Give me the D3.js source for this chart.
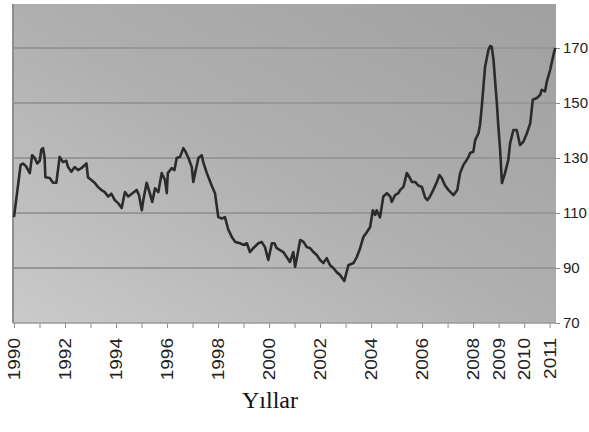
<!DOCTYPE html>
<html>
<head>
<meta charset="utf-8">
<script src="https://cdn.jsdelivr.net/npm/d3@7"></script>
<style>
  body { margin: 0; background: #fff; }
</style>
</head>
<body>
<div id="chart"></div>
<script>
// data (decimal year, index value)
var years = [1990.00, 1990.26, 1990.35, 1990.47, 1990.62, 1990.71, 1990.81, 1990.91, 1991.01, 1991.07,
  1991.14, 1991.20, 1991.23, 1991.40, 1991.53, 1991.66, 1991.79, 1991.92, 1992.05, 1992.12,
  1992.25, 1992.38, 1992.51, 1992.64, 1992.84, 1992.90, 1993.03, 1993.16, 1993.29, 1993.42,
  1993.56, 1993.69, 1993.82, 1993.95, 1994.08, 1994.22, 1994.35, 1994.48, 1994.62, 1994.81,
  1994.90, 1995.01, 1995.07, 1995.20, 1995.33, 1995.42, 1995.53, 1995.66, 1995.79, 1995.92,
  1995.99, 1996.03, 1996.18, 1996.29, 1996.38, 1996.51, 1996.64, 1996.73, 1996.84, 1996.97,
  1997.03, 1997.10, 1997.23, 1997.36, 1997.42, 1997.56, 1997.75, 1997.88, 1998.01, 1998.15,
  1998.27, 1998.40, 1998.54, 1998.67, 1998.86, 1998.99, 1999.13, 1999.25, 1999.38, 1999.58,
  1999.71, 1999.84, 1999.97, 2000.11, 2000.21, 2000.30, 2000.43, 2000.56, 2000.69, 2000.82,
  2000.95, 2001.02, 2001.09, 2001.22, 2001.35, 2001.48, 2001.61, 2001.74, 2001.87, 2002.00,
  2002.13, 2002.26, 2002.39, 2002.52, 2002.65, 2002.78, 2002.95, 2003.11, 2003.31, 2003.44,
  2003.57, 2003.70, 2003.83, 2003.96, 2004.07, 2004.16, 2004.22, 2004.35, 2004.48, 2004.62,
  2004.75, 2004.81, 2004.94, 2005.07, 2005.14, 2005.27, 2005.40, 2005.46, 2005.60, 2005.73,
  2005.85, 2005.99, 2006.12, 2006.21, 2006.31, 2006.44, 2006.58, 2006.68, 2006.77, 2006.90,
  2007.03, 2007.23, 2007.38, 2007.49, 2007.62, 2007.75, 2007.82, 2007.88, 2008.01, 2008.08,
  2008.21, 2008.27, 2008.34, 2008.40, 2008.47, 2008.60, 2008.67, 2008.73, 2008.80, 2008.86,
  2008.93, 2008.99, 2009.06, 2009.13, 2009.25, 2009.38, 2009.45, 2009.58, 2009.71, 2009.84,
  2009.97, 2010.11, 2010.24, 2010.34, 2010.50, 2010.63, 2010.69, 2010.82, 2010.89, 2011.02,
  2011.15, 2011.22];

var values = [108.5, 127.5, 128, 127, 124.5, 131, 130, 128, 129, 133,
  133.6, 130, 123, 122.7, 121, 121, 130.4, 128.5, 129, 126.7,
  125, 126.7, 125.6, 126.3, 128, 123, 122, 121, 119.5, 118.4,
  117.6, 116, 117, 114.7, 113.6, 111.8, 117.6, 116, 117, 118.4,
  116.5, 111, 114.7, 121, 117, 114, 119, 117.6, 124.5, 122,
  117.2, 124.5, 126.3, 125.6, 130, 130.4, 133.6, 132.2, 130, 126.7,
  121.3, 124.5, 130, 131, 128.5, 124.5, 120, 117.2, 108.5, 108,
  108.5, 104, 101.3, 99.5, 99, 98.4, 99, 95.8, 97.2, 99,
  99.5, 97.6, 92.9, 99, 99, 97.2, 96.5, 95.8, 94, 92.2,
  95.8, 90.4, 93.6, 100.2, 99.5, 97.6, 97.2, 95.8, 94.7, 92.9,
  91.8, 93.6, 91, 90, 88.5, 87.5, 85.3, 91, 91.8, 94,
  97.2, 101.3, 103, 104.8, 111, 109.3, 111, 108.4, 116, 117.2,
  116, 114, 116.5, 117.2, 118.4, 119.5, 124.5, 123.8, 121.3, 121.3,
  120, 119.5, 115.6, 114.7, 116, 118.4, 121.3, 123.8, 122.7, 120,
  118.4, 116.5, 118.4, 124.5, 127.5, 129.3, 130.4, 131.8, 132.3, 136.5,
  139, 142, 148.7, 155.4, 163.2, 169.3, 170.7, 170.5, 165.6, 158.4,
  150, 141.4, 132.9, 120.9, 124.5, 129.3, 135.3, 140.2, 140.2, 134.7,
  135.9, 139, 142.6, 151.2, 151.8, 153, 154.8, 154.2, 157.8, 162,
  167.5, 170];

var yTicks = [70, 90, 110, 130, 150, 170];
var xTickYears = d3.range(1990, 2012);
var xLabelYears = [1990, 1992, 1994, 1996, 1998, 2000, 2002, 2004, 2006, 2008, 2009, 2010, 2011];
var xTitle = "Yıllar";

var width = 589, height = 432;
var plot = { left: 13, right: 556, top: 4, bottom: 323 };

var svg = d3.select("#chart")
    .append("svg")
    .attr("width", width)
    .attr("height", height);

// background gradient, light bottom-left to dark top-right
var grad = svg.append("defs").append("linearGradient")
    .attr("id", "bg")
    .attr("x1", "0").attr("y1", "1")
    .attr("x2", "1").attr("y2", "0");
grad.append("stop").attr("offset", "0%").attr("stop-color", "#cacaca");
grad.append("stop").attr("offset", "50%").attr("stop-color", "#afafaf");
grad.append("stop").attr("offset", "100%").attr("stop-color", "#a0a0a0");

svg.append("rect")
    .attr("x", plot.left)
    .attr("y", plot.top)
    .attr("width", plot.right - plot.left)
    .attr("height", plot.bottom - plot.top)
    .attr("fill", "url(#bg)");

var x = d3.scaleLinear()
    .domain([1990, 2011.25])
    .range([plot.left + 1, plot.right]);

var y = d3.scaleLinear()
    .domain([70, 70 + (plot.bottom - plot.top) / 55 * 20])
    .range([plot.bottom, plot.top]);

// gridlines
svg.append("g")
    .selectAll("line")
    .data(yTicks.slice(1))
    .enter()
    .append("line")
    .attr("x1", plot.left)
    .attr("x2", plot.right)
    .attr("y1", function (d) { return y(d); })
    .attr("y2", function (d) { return y(d); })
    .attr("stroke", "#979797")
    .attr("stroke-width", 2);

// right axis
var yAxis = svg.append("g")
    .attr("transform", "translate(" + plot.right + ",0)")
    .call(d3.axisRight(y).tickValues(yTicks).tickSize(4).tickPadding(3));
yAxis.select(".domain").remove();
yAxis.selectAll("line").attr("stroke", "#8a8a8a");
yAxis.selectAll("text")
    .attr("fill", "#222")
    .style("font-family", "'Liberation Sans', Arial, sans-serif")
    .style("font-size", "15px");

// bottom axis ticks
var xAxis = svg.append("g")
    .attr("transform", "translate(0," + plot.bottom + ")")
    .call(d3.axisBottom(x).tickValues(xTickYears).tickSize(5).tickFormat(""));
xAxis.select(".domain").remove();
xAxis.selectAll("line").attr("stroke", "#8a8a8a");

svg.append("line")
    .attr("x1", plot.left).attr("x2", plot.right)
    .attr("y1", plot.bottom).attr("y2", plot.bottom)
    .attr("stroke", "#9a9a9a").attr("stroke-width", 1.5);

// left axis line
svg.append("line")
    .attr("x1", plot.left).attr("x2", plot.left)
    .attr("y1", plot.top).attr("y2", plot.bottom)
    .attr("stroke", "#8e8e8e").attr("stroke-width", 2);

// rotated year labels
svg.append("g")
    .selectAll("text")
    .data(xLabelYears)
    .enter()
    .append("text")
    .attr("transform", function (d) {
        return "translate(" + x(d) + "," + (plot.bottom + 15) + ") rotate(-90) scale(1.12,1)";
    })
    .attr("dy", "0.35em")
    .style("text-anchor", "end")
    .style("font-family", "'Liberation Sans', Arial, sans-serif")
    .style("font-size", "17px")
    .attr("fill", "#222")
    .text(function (d) { return d; });

// x title
svg.append("text")
    .attr("x", 270)
    .attr("y", 408)
    .style("text-anchor", "middle")
    .style("font-family", "'Liberation Serif', 'Times New Roman', serif")
    .style("font-size", "24px")
    .attr("fill", "#111")
    .text(xTitle);

// the line
var line = d3.line()
    .x(function (d) { return x(d[0]); })
    .y(function (d) { return y(d[1]); });

svg.append("path")
    .datum(d3.zip(years, values))
    .attr("d", line)
    .attr("fill", "none")
    .attr("stroke", "#2b2b2b")
    .attr("stroke-width", 2.6)
    .attr("stroke-linejoin", "round");
</script>
</body>
</html>
